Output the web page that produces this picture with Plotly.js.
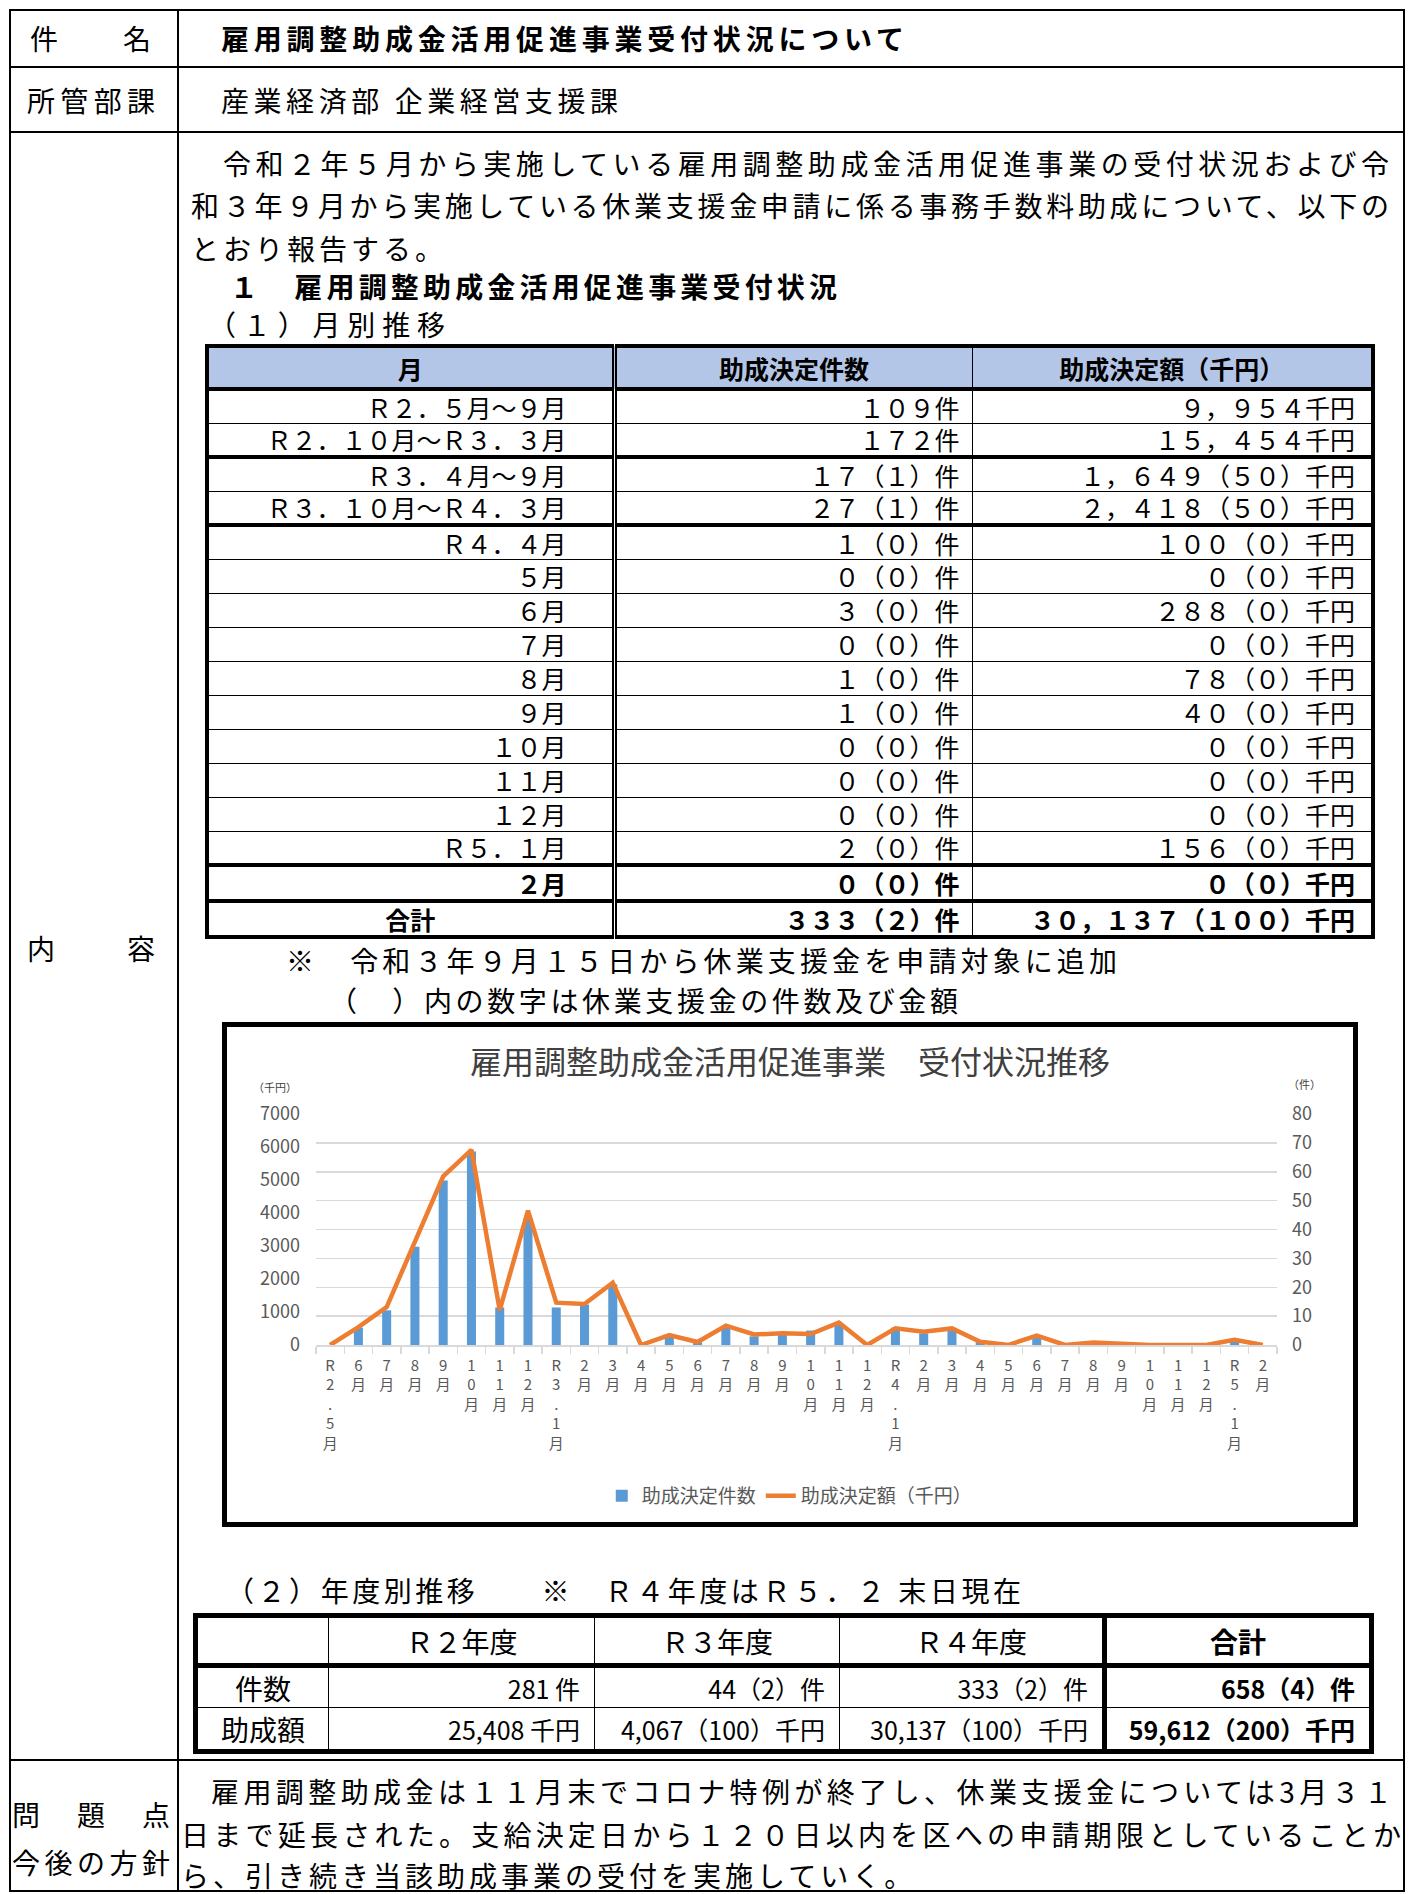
<!DOCTYPE html>
<html lang="ja">
<head>
<meta charset="utf-8">
<script src="https://cdn.plot.ly/plotly-3.0.1.min.js"></script>
<style>
  html, body { margin:0; padding:0; background:#fff; }
  body { width:1409px; height:1894px; position:relative; overflow:hidden;
         font-family:"Noto Sans CJK JP","Noto Sans",sans-serif; color:#000; }
  .ln { position:absolute; background:#000; }
  .t { position:absolute; white-space:nowrap; line-height:40px; height:40px; font-size:28px; }
  .b { font-weight:700; }
  table { position:absolute; border-collapse:collapse; table-layout:fixed; }
  td { padding:0; white-space:nowrap; line-height:30px; }
  #mt { left:205px; top:344px; width:1166px; border:4px solid #000; font-size:25px; }
  #mt td { border-top:1px solid #000; border-bottom:1px solid #000; text-align:right; }
  #mt td.c1 { border-right:5px double #000; padding-right:45px; }
  #mt td.c2 { border-right:1px solid #000; padding-right:12px; }
  #mt td.c3 { padding-right:16px; }
  #mt tr.hd td { background:#b4c6e7; font-weight:700; text-align:center; padding-right:0; border-bottom:4px solid #000; }
  #mt tr.tk td { border-bottom:4px solid #000; }
  #mt tr.bd td { font-weight:700; }
  #mt td.cen { text-align:center; padding-right:0; }
  #at { left:193px; top:1613px; width:1176px; border:5px solid #000; font-size:25px; }
  #at td { border:1.5px solid #000; text-align:right; padding-right:14px; line-height:32px; }
  #at tr.hd td { border-bottom:5px solid #000; text-align:center; padding-right:0; font-size:28px; }
  #at td.lab { text-align:center; padding-right:0; font-size:28px; }
  #at td.tot { border-left:5px solid #000; font-weight:700; }
  #box { position:absolute; left:222px; top:1022px; width:1136px; height:505px; border:5px solid #000; box-sizing:border-box; }
  #chart { position:absolute; left:227px; top:1027px; width:1126px; height:495px; }
</style>
</head>
<body>
<!-- frame -->
<div class="ln" style="left:9px;top:9px;width:1396px;height:2px"></div>
<div class="ln" style="left:9px;top:1890px;width:1396px;height:2px"></div>
<div class="ln" style="left:9px;top:9px;width:2px;height:1883px"></div>
<div class="ln" style="left:1403px;top:9px;width:2px;height:1883px"></div>
<div class="ln" style="left:177px;top:9px;width:2px;height:1883px"></div>
<div class="ln" style="left:9px;top:66px;width:1396px;height:2px"></div>
<div class="ln" style="left:9px;top:131px;width:1396px;height:2px"></div>
<div class="ln" style="left:9px;top:1759px;width:1396px;height:2px"></div>

<div class="t" style="left:30px;top:18px" data-w="121">件　　名</div>
<div class="t b" style="left:221px;top:18px" data-w="683">雇用調整助成金活用促進事業受付状況について</div>
<div class="t" style="left:27px;top:80px" data-w="128">所管部課</div>
<div class="t" style="left:221px;top:80px" data-w="397">産業経済部 企業経営支援課</div>

<div class="t" style="left:223px;top:143px" data-w="1166">令和２年５月から実施している雇用調整助成金活用促進事業の受付状況および令</div>
<div class="t" style="left:191px;top:185px" data-w="1198">和３年９月から実施している休業支援金申請に係る事務手数料助成について、以下の</div>
<div class="t" style="left:191px;top:228px;letter-spacing:4px">とおり報告する。</div>
<div class="t b" style="left:230px;top:266px" data-w="607">１　雇用調整助成金活用促進事業受付状況</div>
<div class="t" style="left:208px;top:304px" data-w="237">（１）月別推移</div>

<div class="t" style="left:27px;top:928px" data-w="128">内　　容</div>

<table id="mt">
  <colgroup><col style="width:407px"><col style="width:358px"><col style="width:401px"></colgroup>
  <tbody id="mtb"></tbody>
</table>

<div class="t" style="left:286px;top:940px" data-w="831">※　令和３年９月１５日から休業支援金を申請対象に追加</div>
<div class="t" style="left:329px;top:980px" data-w="629">（　）内の数字は休業支援金の件数及び金額</div>

<div id="box"></div>
<div id="chart"></div>

<div class="t" style="left:226px;top:1570px" data-w="795">（２）年度別推移　　※　Ｒ４年度はＲ５．２ 末日現在</div>

<table id="at">
  <colgroup><col style="width:133px"><col style="width:266px"><col style="width:245px"><col style="width:265px"><col style="width:267px"></colgroup>
  <tbody id="atb"></tbody>
</table>

<div class="t" style="left:12px;top:1794px" data-w="158">問　題　点</div>
<div class="t" style="left:12px;top:1842px" data-w="158">今後の方針</div>
<div class="t" style="left:211px;top:1771px" data-w="1181">雇用調整助成金は１１月末でコロナ特例が終了し、休業支援金については3月３１</div>
<div class="t" style="left:181px;top:1814px" data-w="1220">日まで延長された。支給決定日から１２０日以内を区への申請期限としていることか</div>
<div class="t" style="left:181px;top:1855px;letter-spacing:4px">ら、引き続き当該助成事業の受付を実施していく。</div>

<script>
// ===== monthly table data =====
const tableHeader = ['月', '助成決定件数', '助成決定額（千円）'];
const tableMonths = ['Ｒ２．５月～９月','Ｒ２．１０月～Ｒ３．３月','Ｒ３．４月～９月','Ｒ３．１０月～Ｒ４．３月','Ｒ４．４月','５月','６月','７月','８月','９月','１０月','１１月','１２月','Ｒ５．１月','２月','合計'];
const tableCounts = ['１０９件','１７２件','１７（１）件','２７（１）件','１（０）件','０（０）件','３（０）件','０（０）件','１（０）件','１（０）件','０（０）件','０（０）件','０（０）件','２（０）件','０（０）件','３３３（２）件'];
const tableAmounts = ['９，９５４千円','１５，４５４千円','１，６４９（５０）千円','２，４１８（５０）千円','１００（０）千円','０（０）千円','２８８（０）千円','０（０）千円','７８（０）千円','４０（０）千円','０（０）千円','０（０）千円','０（０）千円','１５６（０）千円','０（０）千円','３０，１３７（１００）千円'];

// ===== annual table data =====
const yearHeader = ['', 'Ｒ２年度', 'Ｒ３年度', 'Ｒ４年度', '合計'];
const yearRowLabels = ['件数', '助成額'];
const yearCounts = ['281 件', '44（2）件', '333（2）件', '658（4）件'];
const yearAmounts = ['25,408 千円', '4,067（100）千円', '30,137（100）千円', '59,612（200）千円'];

// ===== chart data =====
const monthLabels = ['R2.5月','6月','7月','8月','9月','10月','11月','12月','R3.1月','2月','3月','4月','5月','6月','7月','8月','9月','10月','11月','12月','R4.1月','2月','3月','4月','5月','6月','7月','8月','9月','10月','11月','12月','R5.1月','2月'];
const caseCounts = [0,6,12,34,57,67,13,44,13,14,21,0,3,1,6,3,4,5,7,0,6,4,5,1,0,3,0,1,1,0,0,0,2,0];
const amountsK = [0,540,1150,3150,5114,5910,1060,4070,1283,1242,1889,0,300,90,585,320,354,330,680,0,505,400,503,100,0,288,0,78,40,0,0,0,156,0];
const chartTitle = '雇用調整助成金活用促進事業　受付状況推移';
const barName = '助成決定件数';
const lineName = '助成決定額（千円）';

// build monthly table
(function(){
  const tb = document.getElementById('mtb');
  let h = '<tr class="hd" style="height:43px">' + tableHeader.map((s,i)=>'<td class="c'+(i+1)+'">'+s+'</td>').join('') + '</tr>';
  const thickAfter = {1:1, 3:1, 13:1, 14:1};
  tableMonths.forEach((m,i)=>{
    let cls = [];
    if (thickAfter[i]) cls.push('tk');
    if (i >= 14) cls.push('bd');
    const hgt = i < 14 ? 34 : 36;
    h += '<tr class="'+cls.join(' ')+'" style="height:'+hgt+'px">' +
         '<td class="c1'+(i===15?' cen':'')+'">'+m+'</td>' +
         '<td class="c2">'+tableCounts[i]+'</td>' +
         '<td class="c3">'+tableAmounts[i]+'</td></tr>';
  });
  tb.innerHTML = h;
})();

// build annual table
(function(){
  const tb = document.getElementById('atb');
  let h = '<tr class="hd" style="height:50px">' + yearHeader.map((s,i)=>'<td'+(i===4?' class="tot"':'')+'>'+s+'</td>').join('') + '</tr>';
  [yearCounts, yearAmounts].forEach((row,r)=>{
    h += '<tr style="height:'+(r===0?42:44)+'px"><td class="lab">'+yearRowLabels[r]+'</td>' +
      row.map((s,i)=>'<td'+(i===3?' class="tot"':'')+'>'+s+'</td>').join('') + '</tr>';
  });
  tb.innerHTML = h;
})();

// fit text widths
function fitAll(){
  document.querySelectorAll('[data-w]').forEach(el=>{
    el.style.letterSpacing = '0px';
    const nat = el.getBoundingClientRect().width;
    const n = Array.from(el.textContent).length;
    const ls = (parseFloat(el.dataset.w) - nat) / Math.max(1, n - 1);
    el.style.letterSpacing = ls + 'px';
  });
}
fitAll();
if (document.fonts && document.fonts.ready) document.fonts.ready.then(fitAll);

// chart
const xIdx = monthLabels.map((_, i) => i);
const stacked = monthLabels.map(s => Array.from(s).join('<br>'));
const halfTicks = xIdx.map(i => i - 0.5).concat([monthLabels.length - 0.5]);
const FONT = '"Noto Sans CJK JP", "Noto Sans", sans-serif';

const traces = [
  { type:'bar', name:barName, x:xIdx, y:caseCounts, xaxis:'x', yaxis:'y',
    width:0.32, marker:{color:'#5b9bd5'} },
  { type:'scatter', mode:'lines', name:lineName, x:xIdx, y:amountsK, xaxis:'x', yaxis:'y2',
    line:{color:'#ed7d31', width:4.5} }
];

const layout = {
  width:1126, height:495,
  margin:{l:89, r:76, t:87, b:177, autoexpand:false},
  paper_bgcolor:'#fff', plot_bgcolor:'#fff',
  font:{family:FONT, color:'#595959', size:18},
  title:{text:chartTitle, font:{family:FONT, size:32, color:'#404040'},
         x:0.5, xanchor:'center', xref:'container', y:0.927, yanchor:'middle', yref:'container'},
  xaxis:{range:[-0.5, monthLabels.length - 0.5], tickmode:'array', tickvals:xIdx, ticktext:stacked,
         ticks:'', showgrid:false, zeroline:false, showline:true, linecolor:'#d9d9d9', linewidth:1.5,
         tickfont:{family:FONT, size:15, color:'#595959'}, tickangle:0, ticklabelstandoff:6,
         minor:{tickmode:'array', tickvals:halfTicks, ticks:'outside', ticklen:7, tickcolor:'#d9d9d9', tickwidth:1.5, showgrid:false}},
  yaxis:{range:[0,80], side:'right', tickmode:'linear', tick0:0, dtick:10, showgrid:true,
         gridcolor:'#d9d9d9', gridwidth:1.5, zeroline:false, showline:false, ticks:'',
         tickfont:{family:FONT, size:18, color:'#595959'}, ticklabelstandoff:14},
  yaxis2:{range:[0,7000], overlaying:'y', side:'left', tickmode:'linear', tick0:0, dtick:1000,
          showgrid:false, zeroline:false, showline:false, ticks:'',
          tickfont:{family:FONT, size:18, color:'#595959'}, ticklabelstandoff:15},
  showlegend:true,
  legend:{orientation:'h', x:0.493, xanchor:'center', y:-0.653, yanchor:'middle',
          font:{family:FONT, size:19, color:'#595959'}, bgcolor:'rgba(0,0,0,0)'},
  annotations:[
    {text:'（千円）', xref:'paper', yref:'paper', x:-0.043, y:1.117, xanchor:'center', yanchor:'middle',
     showarrow:false, font:{family:FONT, size:11, color:'#404040'}},
    {text:'（件）', xref:'paper', yref:'paper', x:1.029, y:1.13, xanchor:'center', yanchor:'middle',
     showarrow:false, font:{family:FONT, size:11, color:'#404040'}}
  ]
};

Plotly.newPlot('chart', traces, layout, {staticPlot:true, displayModeBar:false});
</script>
</body>
</html>
